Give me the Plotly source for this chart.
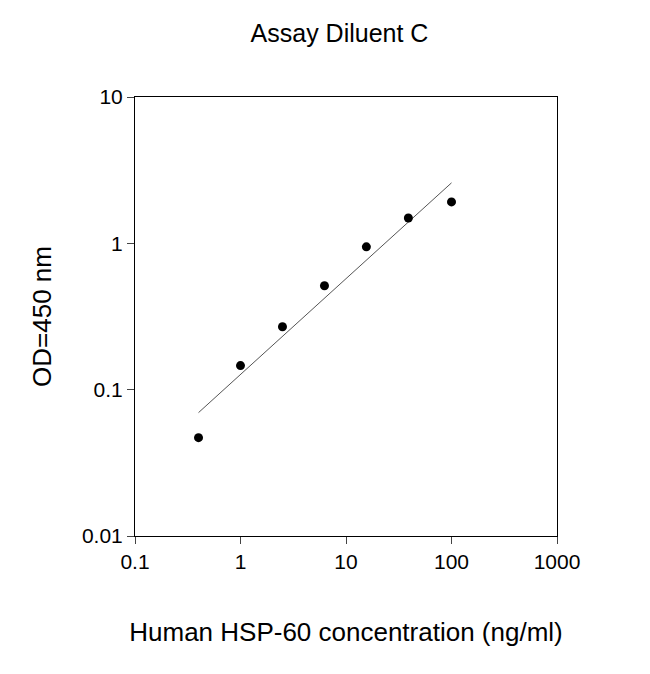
import plotly.graph_objects as go

conc = [0.4, 1, 2.5, 6.25, 15.6, 39, 100]
od = [0.047, 0.146, 0.269, 0.513, 0.946, 1.49, 1.92]
fit_x = [0.4, 100]
fit_y = [0.0697, 2.59]
xticks = [0.1, 1, 10, 100, 1000]
xlabels = ["0.1", "1", "10", "100", "1000"]
yticks = [0.01, 0.1, 1, 10]
ylabels = ["0.01", "0.1", "1", "10"]

fig = go.Figure()
fig.add_trace(go.Scatter(x=fit_x, y=fit_y, mode="lines",
                         line=dict(color="#555555", width=1), showlegend=False))
fig.add_trace(go.Scatter(x=conc, y=od, mode="markers",
                         marker=dict(color="black", size=9), showlegend=False))
font = "Liberation Sans, Arial, sans-serif"
fig.update_layout(
    width=650, height=674, plot_bgcolor="white", paper_bgcolor="white",
    margin=dict(l=127, r=101, t=89, b=146),
    font=dict(family=font, color="black", size=21),
    title=dict(text="Assay Diluent C", x=0.51, xanchor="center", y=0.962, yanchor="middle",
               font=dict(size=25)),
)
fig.update_xaxes(type="log", range=[-1, 3], tickvals=xticks, ticktext=xlabels,
                 ticks="outside", ticklen=7, showline=True, linecolor="black", mirror=True,
                 showgrid=False, zeroline=False,
                 title=dict(text="Human HSP-60 concentration (ng/ml)", font=dict(size=26), standoff=50))
fig.update_yaxes(type="log", range=[-2, 1], tickvals=yticks, ticktext=ylabels,
                 ticks="outside", ticklen=7, showline=True, linecolor="black", mirror=True,
                 showgrid=False, zeroline=False,
                 title=dict(text="OD=450 nm", font=dict(size=26), standoff=22))
fig.write_html("out.html")
